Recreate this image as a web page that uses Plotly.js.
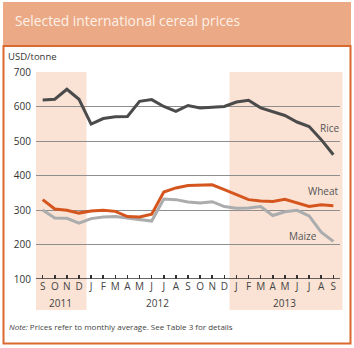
<!DOCTYPE html>
<html>
<head>
<meta charset="utf-8">
<script src="https://cdn.plot.ly/plotly-3.0.1.min.js"></script>
<style>
html,body{margin:0;padding:0;background:#fff;}
#chart{width:354px;height:348px;}
</style>
</head>
<body>
<div id="chart"></div>
<script>
// Months Sep 2011 .. Sep 2013
var monthLabels = ["S","O","N","D","J","F","M","A","M","J","J","A","S","O","N","D","J","F","M","A","M","J","J","A","S"];
var years = ["2011","2012","2013"];
var yearCenters = [1.5, 9.5, 20];
var rice  = [619,621,650,621,549,565,570,571,615,620,600,586,603,596,598,600,613,618,596,586,574,555,542,504,460];
var wheat = [330,303,299,291,297,299,296,281,280,288,352,364,371,373,373,359,345,330,326,325,331,321,310,315,312];
var maize = [300,277,276,262,275,280,281,276,272,268,332,330,323,320,324,310,305,306,310,284,295,299,283,236,209];
var yTicks = [100,200,300,400,500,600,700];

var idx = monthLabels.map(function(_, i){ return i; });
var FONT = "Open Sans, Noto Sans, sans-serif";

var traces = [
  {x: idx, y: maize, mode: "lines", line: {color: "#ABACAE", width: 3}, hoverinfo: "skip"},
  {x: idx, y: wheat, mode: "lines", line: {color: "#D4561E", width: 3}, hoverinfo: "skip"},
  {x: idx, y: rice,  mode: "lines", line: {color: "#4B4B4B", width: 3}, hoverinfo: "skip"}
];

// pixel -> paper helpers (plot area: x 36..340, y 72..279)
function px(v){ return (v - 36) / 304; }
function py(v){ return (279 - v) / 207; }

var shapes = [
  // header band
  {type: "rect", xref: "paper", yref: "paper", x0: px(3), x1: px(351), y0: py(46), y1: py(2),
   fillcolor: "#EBA985", line: {width: 0}, layer: "below"},
  // frame
  {type: "rect", xref: "paper", yref: "paper", x0: px(3.5), x1: px(350.5), y0: py(343.5), y1: py(46),
   fillcolor: "rgba(0,0,0,0)", line: {color: "#D9692E", width: 2}, layer: "below"},
  // shaded periods
  {type: "rect", xref: "paper", yref: "paper", x0: px(36), x1: px(86.5), y0: py(310), y1: py(72),
   fillcolor: "#FAE3D5", line: {width: 0}, layer: "below"},
  {type: "rect", xref: "paper", yref: "paper", x0: px(229.5), x1: px(342.5), y0: py(310), y1: py(72),
   fillcolor: "#FAE3D5", line: {width: 0}, layer: "below"}
];

var annotations = [
  {text: "USD/tonne", xref: "paper", yref: "paper", x: px(6), y: py(57), xanchor: "left", yanchor: "middle",
   showarrow: false, font: {family: FONT, size: 9.5, color: "#333"}},
  {text: "Rice", xref: "x", yref: "y", x: 23.7, y: 538, showarrow: false,
   font: {family: FONT, size: 10, color: "#555"}},
  {text: "Wheat", xref: "x", yref: "y", x: 23.2, y: 354, showarrow: false,
   font: {family: FONT, size: 10, color: "#555"}},
  {text: "Maize", xref: "x", yref: "y", x: 21.5, y: 226, showarrow: false,
   font: {family: FONT, size: 10, color: "#555"}},
  {text: "<i>Note:</i> Prices refer to monthly average. See Table 3 for details", xref: "paper", yref: "paper",
   x: px(7), y: py(326), xanchor: "left", yanchor: "middle", showarrow: false,
   font: {family: FONT, size: 8, color: "#444"}}
];
years.forEach(function(yr, i){
  annotations.push({text: yr, xref: "x", yref: "paper", x: yearCenters[i], y: py(303), yanchor: "middle",
    showarrow: false, font: {family: FONT, size: 10, color: "#444"}});
});

var layout = {
  width: 354, height: 348,
  margin: {l: 36, r: 14, t: 72, b: 69, pad: 0},
  paper_bgcolor: "#ffffff", plot_bgcolor: "rgba(0,0,0,0)",
  showlegend: false,
  title: {text: "Selected international cereal prices", x: 15/354, xanchor: "left", xref: "container",
          y: 1 - 21/348, yanchor: "middle", yref: "container",
          font: {family: FONT, size: 13.8, color: "#FDF1E8"}},
  xaxis: {range: [-0.55, 24.55], tickmode: "array", tickvals: idx, ticktext: monthLabels,
          showgrid: false, zeroline: false, showline: false,
          ticks: "inside", ticklen: 4, tickwidth: 1.5, tickcolor: "#333",
          tickfont: {family: FONT, size: 10, color: "#444"}, fixedrange: true},
  yaxis: {range: [100, 700], tickmode: "array", tickvals: yTicks, ticktext: yTicks.map(String),
          showgrid: true, gridcolor: "#8E8E8E", gridwidth: 1, zeroline: false,
          showline: false, ticks: "", ticklabelstandoff: 4,
          tickfont: {family: FONT, size: 10, color: "#333"}, fixedrange: true},
  shapes: shapes.concat([
    {type: "line", xref: "paper", yref: "y", x0: 0, x1: 1, y0: 100, y1: 100,
     line: {color: "#333", width: 1.5}}
  ]),
  annotations: annotations
};

Plotly.newPlot("chart", traces, layout, {staticPlot: true, displayModeBar: false});
</script>
</body>
</html>
